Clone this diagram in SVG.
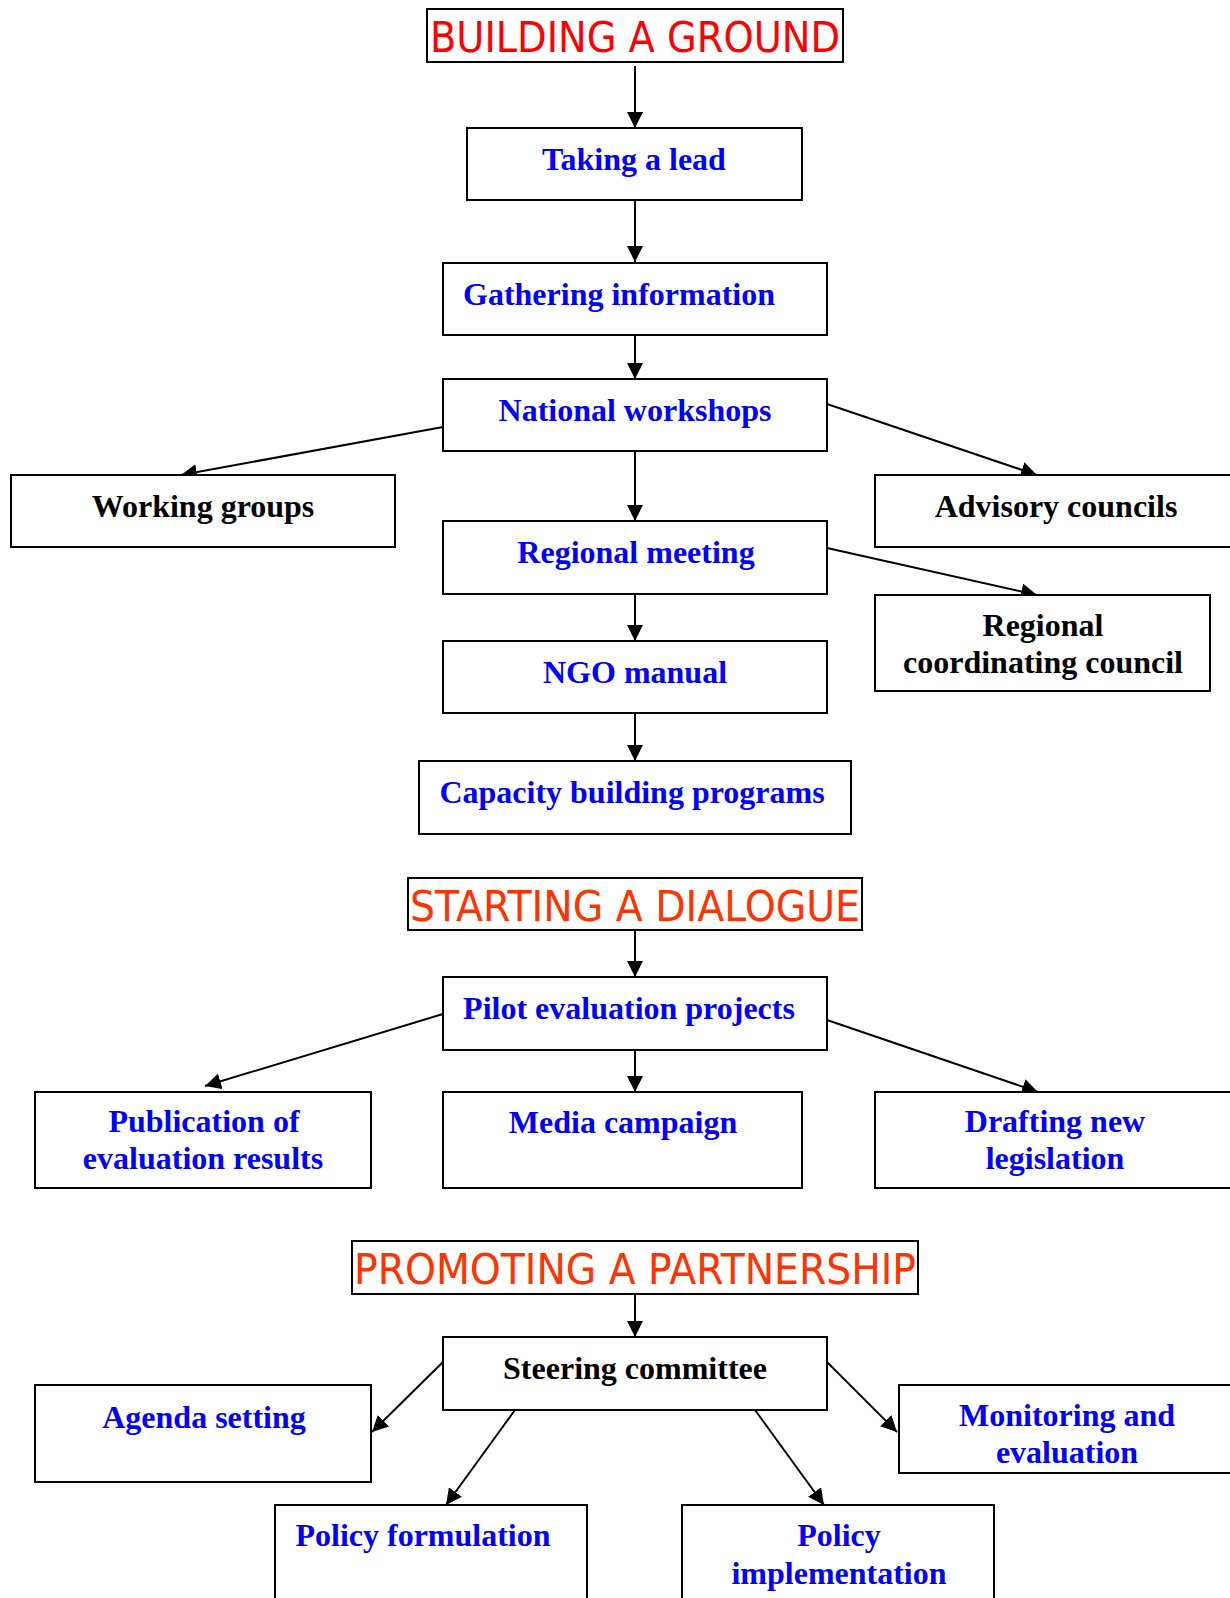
<svg xmlns="http://www.w3.org/2000/svg" width="1230" height="1598" viewBox="0 0 1230 1598">
<style>
.box{fill:#fff;stroke:#000;stroke-width:2}
.t{font-family:"Liberation Serif","Times New Roman",serif;font-weight:bold;font-size:32px;text-anchor:middle}
.b{fill:#0000FF}
.k{fill:#000}
.h{font-family:"DejaVu Sans",Verdana,sans-serif;font-size:43px}
.c line{stroke:#000;stroke-width:2;marker-end:url(#ah)}
</style>
<defs>
<marker id="ah" markerUnits="userSpaceOnUse" markerWidth="17" markerHeight="16" refX="16" refY="8" orient="auto">
<path d="M0,0 L16,8 L0,16 z" fill="#000"/>
</marker>
</defs>
<rect width="1230" height="1598" fill="#fff"/>

<g class="c" id="connectors">
<line x1="635" y1="66" x2="635" y2="128"/>
<line x1="635" y1="200" x2="635" y2="262"/>
<line x1="635" y1="331" x2="635" y2="379"/>
<line x1="443" y1="427" x2="181" y2="475"/>
<line x1="827" y1="404" x2="1037" y2="475"/>
<line x1="635" y1="451" x2="635" y2="521"/>
<line x1="827" y1="548" x2="1037" y2="595"/>
<line x1="635" y1="594" x2="635" y2="641"/>
<line x1="635" y1="713" x2="635" y2="761"/>
<line x1="635" y1="923" x2="635" y2="977"/>
<line x1="443" y1="1014" x2="205" y2="1086"/>
<line x1="635" y1="1043" x2="635" y2="1092"/>
<line x1="827" y1="1020" x2="1038" y2="1092"/>
<line x1="635" y1="1289" x2="635" y2="1337"/>
<line x1="443" y1="1362" x2="372" y2="1432"/>
<line x1="515" y1="1410" x2="446" y2="1505"/>
<line x1="755" y1="1410" x2="824" y2="1505"/>
<line x1="827" y1="1362" x2="897" y2="1432"/>
</g>

<g id="title1"><rect class="box" x="427" y="9" width="416" height="53"/><text class="h" x="430" y="52" fill="#FF0000" textLength="410" lengthAdjust="spacingAndGlyphs">BUILDING A GROUND</text></g>
<g id="taking"><rect class="box" x="467" y="128" width="335" height="72"/><text class="t b" x="634" y="170">Taking a lead</text></g>
<g id="gathering"><rect class="box" x="443" y="263" width="384" height="72"/><text class="t b" x="619" y="305">Gathering information</text></g>
<g id="national"><rect class="box" x="443" y="379" width="384" height="72"/><text class="t b" x="635" y="421">National workshops</text></g>
<g id="working"><rect class="box" x="11" y="475" width="384" height="72"/><text class="t k" x="203" y="517">Working groups</text></g>
<g id="advisory"><rect class="box" x="875" y="475" width="364" height="72"/><text class="t k" x="1056" y="517">Advisory councils</text></g>
<g id="regional"><rect class="box" x="443" y="521" width="384" height="73"/><text class="t b" x="636" y="563">Regional meeting</text></g>
<g id="rcc"><rect class="box" x="875" y="595" width="335" height="96"/><text class="t k" x="1043" y="636">Regional</text><text class="t k" x="1043" y="673">coordinating council</text></g>
<g id="ngo"><rect class="box" x="443" y="641" width="384" height="72"/><text class="t b" x="635" y="683">NGO manual</text></g>
<g id="capacity"><rect class="box" x="419" y="761" width="432" height="73"/><text class="t b" x="632" y="803">Capacity building programs</text></g>

<g id="title2"><rect class="box" x="408" y="878" width="454" height="52"/><text class="h" x="410" y="921" fill="#FF3300" textLength="450" lengthAdjust="spacingAndGlyphs">STARTING A DIALOGUE</text></g>
<g id="pilot"><rect class="box" x="443" y="977" width="384" height="73"/><text class="t b" x="629" y="1019">Pilot evaluation projects</text></g>
<g id="publication"><rect class="box" x="35" y="1092" width="336" height="96"/><text class="t b" x="204" y="1132">Publication of</text><text class="t b" x="203" y="1169">evaluation results</text></g>
<g id="media"><rect class="box" x="443" y="1092" width="359" height="96"/><text class="t b" x="623" y="1133">Media campaign</text></g>
<g id="drafting"><rect class="box" x="875" y="1092" width="364" height="96"/><text class="t b" x="1055" y="1132">Drafting new</text><text class="t b" x="1055" y="1169">legislation</text></g>

<g id="title3"><rect class="box" x="352" y="1241" width="566" height="53"/><text class="h" x="354" y="1284" fill="#FF3300" textLength="562" lengthAdjust="spacingAndGlyphs">PROMOTING A PARTNERSHIP</text></g>
<g id="steering"><rect class="box" x="443" y="1337" width="384" height="73"/><text class="t k" x="635" y="1379">Steering committee</text></g>
<g id="agenda"><rect class="box" x="35" y="1385" width="336" height="97"/><text class="t b" x="204" y="1428">Agenda setting</text></g>
<g id="monitoring"><rect class="box" x="899" y="1385" width="340" height="88"/><text class="t b" x="1067" y="1426">Monitoring and</text><text class="t b" x="1067" y="1463">evaluation</text></g>
<g id="formulation"><rect class="box" x="275" y="1505" width="312" height="110"/><text class="t b" x="423" y="1546">Policy formulation</text></g>
<g id="implementation"><rect class="box" x="682" y="1505" width="312" height="110"/><text class="t b" x="839" y="1584">implementation</text><text class="t b" x="839" y="1546">Policy</text></g>
</svg>
